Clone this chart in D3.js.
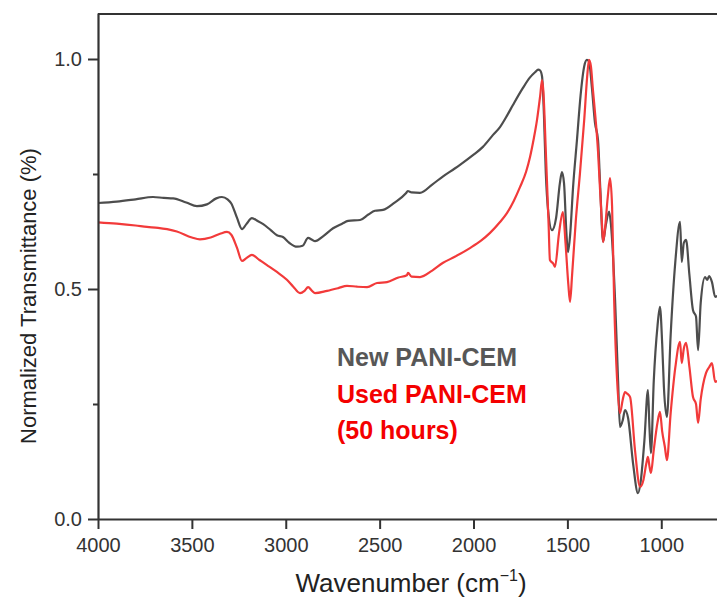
<!DOCTYPE html>
<html>
<head>
<meta charset="utf-8">
<script src="https://cdn.jsdelivr.net/npm/d3@7"></script>
<style>
  body { margin: 0; background: #fff; }
  svg { display: block; font-family: "Liberation Sans", Arial, Helvetica, sans-serif; }
</style>
</head>
<body>
<svg width="717" height="603"></svg>
<script>
// wavenumber (cm-1) / normalized transmittance
const newWn = [4000, 3900, 3800, 3707, 3650, 3600, 3530, 3473, 3420, 3370, 3340, 3310, 3290, 3260, 3233, 3210, 3180, 3150, 3120, 3080, 3047, 3015, 2980, 2940, 2910, 2881, 2860, 2844, 2800, 2748, 2700, 2668, 2604, 2560, 2525, 2482, 2420, 2360, 2350, 2330, 2285, 2220, 2162, 2100, 2072, 2003, 1950, 1896, 1859, 1820, 1790, 1740, 1699, 1670, 1656, 1645, 1635, 1625, 1615, 1603, 1582, 1560, 1540, 1529, 1518, 1505, 1497, 1485, 1470, 1449, 1430, 1410, 1396, 1385, 1370, 1353, 1337, 1325, 1310, 1295, 1278, 1268, 1246, 1230, 1220, 1205, 1193, 1177, 1150, 1124, 1110, 1090, 1071, 1063, 1055, 1040, 1020, 1007, 995, 986, 970, 950, 925, 900, 891, 880, 868, 850, 831, 815, 804, 790, 767, 755, 745, 730, 713, 700];
const newT = [0.687, 0.690, 0.695, 0.700, 0.698, 0.697, 0.688, 0.680, 0.684, 0.697, 0.700, 0.695, 0.686, 0.655, 0.630, 0.641, 0.654, 0.648, 0.641, 0.628, 0.617, 0.613, 0.600, 0.592, 0.594, 0.611, 0.607, 0.604, 0.615, 0.632, 0.642, 0.648, 0.650, 0.662, 0.670, 0.672, 0.688, 0.708, 0.713, 0.710, 0.709, 0.727, 0.745, 0.762, 0.770, 0.791, 0.809, 0.835, 0.852, 0.878, 0.900, 0.935, 0.960, 0.972, 0.977, 0.975, 0.962, 0.880, 0.752, 0.672, 0.628, 0.655, 0.730, 0.754, 0.730, 0.620, 0.580, 0.620, 0.720, 0.824, 0.920, 0.985, 0.998, 0.995, 0.940, 0.861, 0.824, 0.720, 0.603, 0.640, 0.668, 0.640, 0.476, 0.300, 0.200, 0.215, 0.237, 0.220, 0.120, 0.056, 0.080, 0.170, 0.280, 0.200, 0.143, 0.300, 0.420, 0.461, 0.380, 0.287, 0.222, 0.400, 0.560, 0.646, 0.559, 0.600, 0.607, 0.530, 0.454, 0.440, 0.367, 0.470, 0.526, 0.520, 0.528, 0.515, 0.483, 0.485];

const usedWn = [4000, 3900, 3800, 3739, 3680, 3632, 3580, 3500, 3457, 3400, 3350, 3313, 3290, 3260, 3233, 3210, 3180, 3140, 3100, 3047, 2994, 2960, 2924, 2900, 2881, 2860, 2844, 2780, 2720, 2674, 2620, 2567, 2514, 2461, 2400, 2355, 2349, 2330, 2285, 2220, 2162, 2100, 2019, 1960, 1912, 1860, 1822, 1785, 1752, 1720, 1699, 1680, 1662, 1645, 1635, 1628, 1615, 1600, 1593, 1575, 1566, 1545, 1524, 1510, 1495, 1486, 1475, 1455, 1433, 1410, 1395, 1385, 1375, 1364, 1350, 1337, 1326, 1316, 1310, 1300, 1285, 1273, 1262, 1251, 1235, 1220, 1205, 1193, 1180, 1166, 1140, 1113, 1095, 1080, 1071, 1063, 1055, 1040, 1020, 1007, 995, 981, 970, 950, 925, 900, 891, 880, 868, 850, 831, 815, 804, 790, 762, 745, 730, 713, 700];
const usedT = [0.645, 0.642, 0.638, 0.635, 0.633, 0.630, 0.625, 0.612, 0.608, 0.612, 0.620, 0.624, 0.618, 0.590, 0.561, 0.567, 0.574, 0.563, 0.552, 0.537, 0.520, 0.505, 0.491, 0.496, 0.504, 0.496, 0.491, 0.496, 0.502, 0.507, 0.505, 0.504, 0.513, 0.515, 0.525, 0.530, 0.535, 0.527, 0.526, 0.540, 0.557, 0.570, 0.589, 0.605, 0.622, 0.645, 0.665, 0.692, 0.722, 0.755, 0.787, 0.825, 0.867, 0.920, 0.954, 0.930, 0.800, 0.640, 0.563, 0.555, 0.548, 0.620, 0.667, 0.600, 0.510, 0.472, 0.530, 0.650, 0.752, 0.870, 0.960, 0.998, 0.985, 0.933, 0.870, 0.800, 0.715, 0.643, 0.602, 0.630, 0.700, 0.741, 0.680, 0.476, 0.300, 0.230, 0.260, 0.276, 0.272, 0.265, 0.150, 0.070, 0.085, 0.120, 0.135, 0.115, 0.100, 0.150, 0.210, 0.233, 0.190, 0.157, 0.128, 0.230, 0.330, 0.385, 0.339, 0.370, 0.383, 0.330, 0.265, 0.250, 0.209, 0.260, 0.317, 0.330, 0.339, 0.298, 0.300];

const xTicks = [4000, 3500, 3000, 2500, 2000, 1500, 1000];
const yTicks = [0.0, 0.5, 1.0];
const yMinor = [0.25, 0.75];
const legendLines = [
  { text: "New PANI-CEM", color: "#575757" },
  { text: "Used PANI-CEM", color: "#f40000" },
  { text: "(50 hours)", color: "#f40000" }
];

const svg = d3.select("svg");
const plotL = 98, plotR = 717.6, plotT = 13, plotB = 519;

const x = d3.scaleLinear().domain([4000, 700]).range([plotL, plotR]);
const y = d3.scaleLinear().domain([0, 1.1]).range([plotB, plotT]);

svg.append("clipPath").attr("id", "plot")
  .append("rect").attr("x", plotL).attr("y", plotT).attr("width", plotR - plotL).attr("height", plotB - plotT);

const line = d3.line()
  .x(d => x(d[0]))
  .y(d => y(d[1]))
  .curve(d3.curveMonotoneX);

const series = [
  { pts: d3.zip(newWn, newT), color: "#4d4d4d" },
  { pts: d3.zip(usedWn, usedT), color: "#f23a3a" }
];

svg.append("g").attr("clip-path", "url(#plot)")
  .selectAll("path").data(series).join("path")
  .attr("d", d => line(d.pts))
  .attr("fill", "none")
  .attr("stroke", d => d.color)
  .attr("stroke-width", 2.2)
  .attr("stroke-linejoin", "round");

// axes
svg.append("g").attr("transform", `translate(0,${plotB})`)
  .call(d3.axisBottom(x).tickValues(xTicks).tickFormat(d3.format("d")).tickSize(10).tickPadding(9).tickSizeOuter(0));
svg.append("g").attr("transform", `translate(${plotL},0)`)
  .call(d3.axisLeft(y).tickValues(yTicks).tickFormat(d3.format(".1f")).tickSize(10).tickPadding(6).tickSizeOuter(0));
svg.append("g").attr("transform", `translate(${plotL},0)`)
  .call(d3.axisLeft(y).tickValues(yMinor).tickFormat("").tickSize(5).tickSizeOuter(0))
  .select(".domain").remove();

svg.selectAll(".tick text").attr("font-size", 20).attr("fill", "#333").attr("font-family", "inherit");
svg.selectAll(".tick line").attr("stroke", "#333").attr("stroke-width", 2);
svg.selectAll(".domain").attr("stroke", "#333").attr("stroke-width", 2.2);

// top frame line
svg.append("line")
  .attr("x1", plotL).attr("x2", 717).attr("y1", plotT + 1).attr("y2", plotT + 1)
  .attr("stroke", "#333").attr("stroke-width", 2.2);

// axis titles
const xTitle = svg.append("text")
  .attr("x", 411).attr("y", 592)
  .attr("text-anchor", "middle")
  .attr("font-size", 26).attr("fill", "#222");
xTitle.append("tspan").text("Wavenumber (cm");
xTitle.append("tspan").attr("font-size", 16).attr("dy", -11).text("\u22121");
xTitle.append("tspan").attr("dy", 11).text(")");

svg.append("text")
  .attr("transform", "translate(36,296) rotate(-90)")
  .attr("text-anchor", "middle")
  .attr("font-size", 22).attr("fill", "#222")
  .text("Normalized Transmittance (%)");

// legend text
svg.append("g").selectAll("text").data(legendLines).join("text")
  .attr("x", 337)
  .attr("y", (d, i) => 366 + i * 36.5)
  .attr("font-size", 25).attr("font-weight", "bold")
  .attr("fill", d => d.color)
  .text(d => d.text);
</script>
</body>
</html>
